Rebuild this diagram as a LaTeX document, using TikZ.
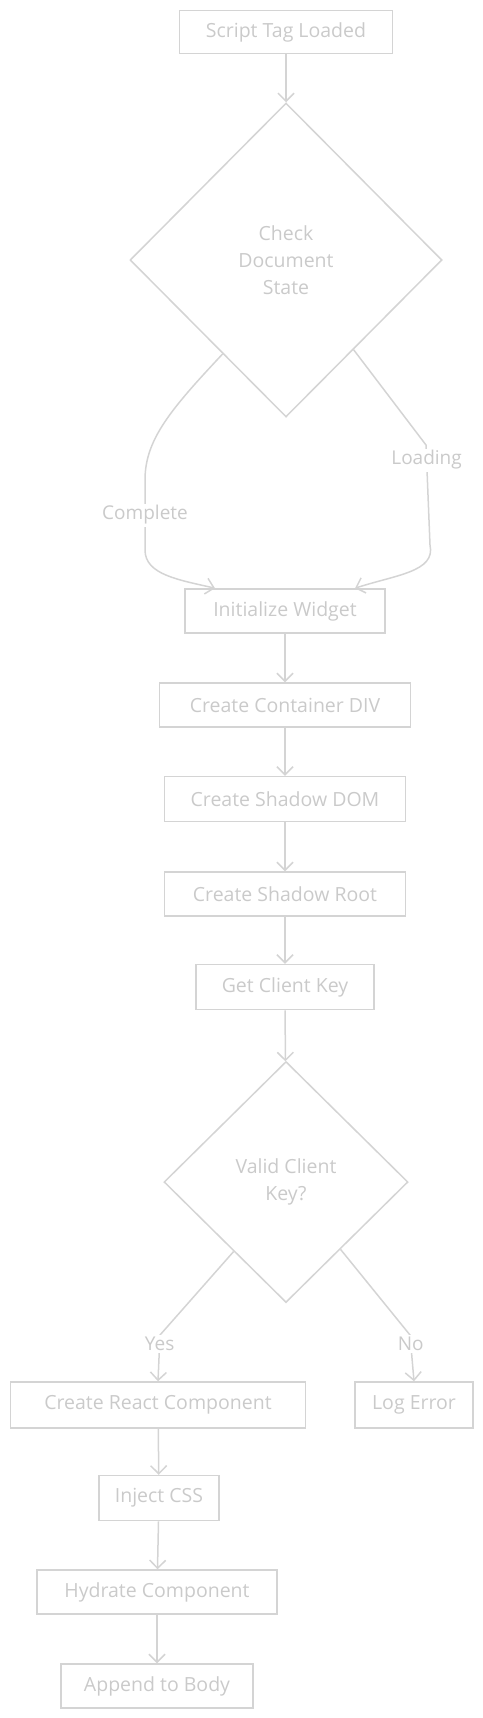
\documentclass[tikz,border=0pt]{standalone}
\usepackage{fontspec}
\setmainfont{Open Sans}
\usetikzlibrary{shapes.geometric,arrows.meta}
\definecolor{sketchgray}{HTML}{D4D4D4}
\definecolor{labelgray}{HTML}{CACACA}

\begin{document}
\begin{tikzpicture}[x=1pt,y=-1pt]
  \tikzstyle{flowbox}=[rectangle, draw=sketchgray, line width=1.5pt, text=labelgray, minimum height=44pt, inner sep=0pt, font=\fontsize{19.5}{27}\selectfont]
  \tikzstyle{decision}=[diamond, draw=sketchgray, line width=1.5pt, text=labelgray, align=center, inner sep=0pt, font=\fontsize{19.5}{27}\selectfont]
  \tikzstyle{flow}=[draw=sketchgray, line width=1.5pt, -{Straight Barb[length=8pt,width=16pt]}]
  \tikzstyle{edgelabel}=[fill=white, text=labelgray, inner sep=2pt, font=\fontsize{19}{22}\selectfont]
  \useasboundingbox (0,0) rectangle (482,1718);

  % Node definitions
  \node[flowbox, minimum width=213pt, minimum height=43pt] (load) at (286,32) {Script Tag Loaded};
  \node[decision, minimum width=312pt, minimum height=314pt] (check) at (286,260) {Check\\Document\\State};
  \node[flowbox, minimum width=200pt] (init) at (285,611) {Initialize Widget};
  \node[flowbox, minimum width=251pt] (container) at (285,705) {Create Container DIV};
  \node[flowbox, minimum width=241pt, minimum height=45pt] (shadowdom) at (285,799) {Create Shadow DOM};
  \node[flowbox, minimum width=241pt] (shadowroot) at (285,894) {Create Shadow Root};
  \node[flowbox, minimum width=178pt, minimum height=45pt] (clientkey) at (285,987) {Get Client Key};
  \node[decision, minimum width=244pt, minimum height=241pt] (valid) at (286,1182) {Valid Client\\Key?};
  \node[flowbox, minimum width=295pt, minimum height=46pt] (react) at (158,1405) {Create React Component};
  \node[flowbox, minimum width=118pt, minimum height=46pt] (logerr) at (414,1405) {Log Error};
  \node[flowbox, minimum width=120pt, minimum height=45pt] (css) at (159,1498) {Inject CSS};
  \node[flowbox, minimum width=240pt] (hydrate) at (157,1592) {Hydrate Component};
  \node[flowbox, minimum width=192pt] (append) at (157,1686) {Append to Body};

  % Edge definitions
  \draw[flow] (load) -- (check);
  \draw[flow] (check.236) .. controls (170,410) and (145,440) .. (145,480)
    -- node[edgelabel]{Complete} (145,550)
    .. controls (145,575) and (180,580) .. ([xshift=-70pt]init.north);
  \draw[flow] (check.307) -- (426,445)
    -- node[edgelabel, pos=0.15]{Loading} (430,545)
    .. controls (436,572) and (395,575) .. ([xshift=70pt]init.north);
  \draw[flow] (init) -- (container);
  \draw[flow] (container) -- (shadowdom);
  \draw[flow] (shadowdom) -- (shadowroot);
  \draw[flow] (shadowroot) -- (clientkey);
  \draw[flow] (clientkey) -- (valid);
  \draw[flow] (valid.233) -- (160,1335) -- node[edgelabel, pos=0.2]{Yes} (react.north);
  \draw[flow] (valid.309) -- (410,1335) -- node[edgelabel, pos=0.2]{No} (logerr.north);
  \draw[flow] (react) -- (css);
  \draw[flow] (css) -- (hydrate);
  \draw[flow] (hydrate) -- (append);
\end{tikzpicture}
\end{document}
